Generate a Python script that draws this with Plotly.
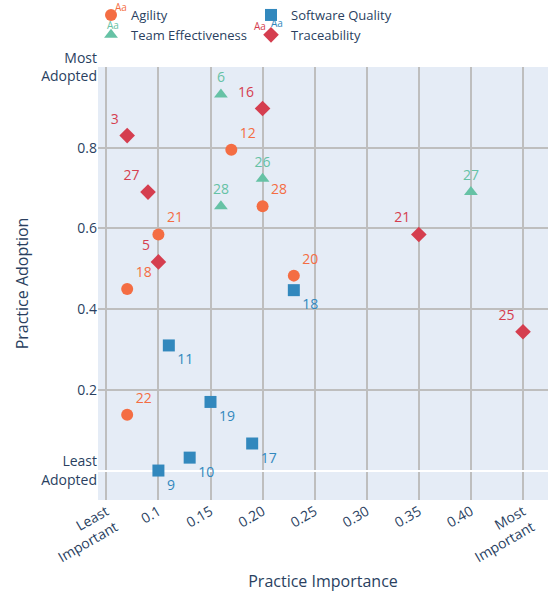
import plotly.graph_objects as go

# Agility
agility_x = [0.17, 0.20, 0.10, 0.07, 0.23, 0.07]
agility_y = [0.795, 0.655, 0.585, 0.45, 0.483, 0.138]
agility_lbl = ["12", "28", "21", "18", "20", "22"]

# Software Quality
sq_x = [0.23, 0.11, 0.15, 0.19, 0.13, 0.10]
sq_y = [0.447, 0.31, 0.17, 0.067, 0.032, 0.0]
sq_lbl = ["18", "11", "19", "17", "10", "9"]

# Team Effectiveness
te_x = [0.16, 0.20, 0.16, 0.40]
te_y = [0.932, 0.723, 0.655, 0.69]
te_lbl = ["6", "26", "28", "27"]

# Traceability
tr_x = [0.20, 0.07, 0.09, 0.10, 0.35, 0.45]
tr_y = [0.897, 0.83, 0.69, 0.517, 0.585, 0.344]
tr_lbl = ["16", "3", "27", "5", "21", "25"]

x_tickvals = [0.05, 0.10, 0.15, 0.20, 0.25, 0.30, 0.35, 0.40, 0.45]
x_ticktext = ["Least<br>Important", "0.1", "0.15", "0.20", "0.25", "0.30", "0.35", "0.40", "Most<br>Important"]
y_tickvals = [0.0, 0.2, 0.4, 0.6, 0.8, 1.0]
y_ticktext = ["Least<br>Adopted", "0.2", "0.4", "0.6", "0.8", "Most<br>Adopted"]

series = [
    ("Agility", agility_x, agility_y, agility_lbl, "#F46D43", "circle", "top right"),
    ("Software Quality", sq_x, sq_y, sq_lbl, "#3288BD", "square", "bottom right"),
    ("Team Effectiveness", te_x, te_y, te_lbl, "#66C2A5", "triangle-up", "top center"),
    ("Traceability", tr_x, tr_y, tr_lbl, "#D53E4F", "diamond", "top left"),
]

# small "Aa" text-style swatches shown next to each legend symbol
legend_aa = [
    ("#F46D43", 0.05, 1.1397),
    ("#66C2A5", 0.034, 1.097),
    ("#3288BD", 0.3984, 1.1009),
    ("#D53E4F", 0.36, 1.0947),
]

fig = go.Figure()
for name, xs, ys, lbl, col, sym, pos in series:
    fig.add_trace(go.Scatter(
        x=xs, y=ys, text=lbl, name=name, mode="markers+text",
        marker=dict(color=col, symbol=sym, size=12),
        textposition=pos, textfont=dict(color=col, size=14),
    ))

for col, ax, ay in legend_aa:
    fig.add_annotation(text="Aa", x=ax, y=ay, xref="paper", yref="paper",
                       showarrow=False, font=dict(size=10, color=col),
                       xanchor="center", yanchor="middle")

fig.update_layout(
    width=548, height=594,
    template="plotly",
    font=dict(family='"Open Sans", verdana, arial, sans-serif', size=14, color="#2a3f5f"),
    margin=dict(l=98, r=0, t=67, b=94),
    plot_bgcolor="#E5ECF6",
    legend=dict(orientation="h", xref="container", x=0.1606, xanchor="left",
                yref="container", y=1.0, yanchor="top", indentation=3,
                entrywidth=112, font=dict(size=13)),
    xaxis=dict(range=[0.042, 0.474], tickvals=x_tickvals, ticktext=x_ticktext,
               tickangle=-30, gridcolor="#BEBEBE", gridwidth=2, zeroline=False,
               automargin=False,
               title=dict(text="Practice Importance", font=dict(size=16), standoff=10)),
    yaxis=dict(range=[-0.073, 1.0], tickvals=y_tickvals, ticktext=y_ticktext,
               gridcolor="#BEBEBE", gridwidth=2, zeroline=True, zerolinecolor="white",
               zerolinewidth=2, automargin=False,
               title=dict(text="Practice Adoption", font=dict(size=16), standoff=8)),
)

fig.write_html("out.html", config={"displayModeBar": False},
               post_script="document.body.style.margin='0px';")
